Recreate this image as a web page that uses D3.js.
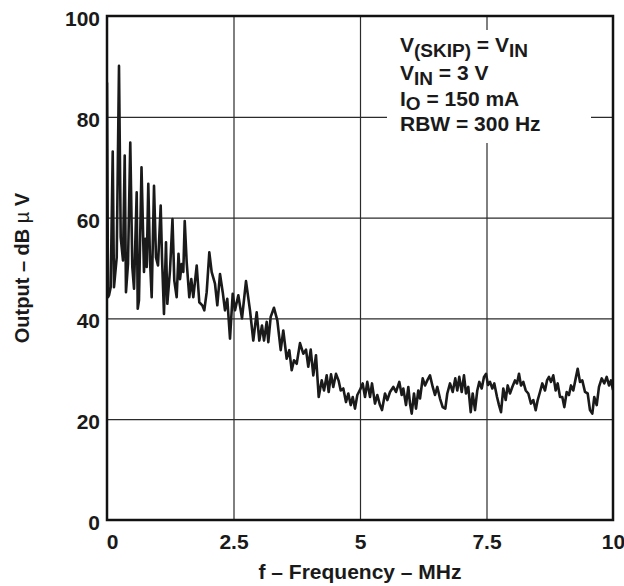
<!DOCTYPE html>
<html>
<head>
<meta charset="utf-8">
<script src="https://cdn.jsdelivr.net/npm/d3@7"></script>
<style>
    body { margin: 0; background: #fff; }
    text { font-family: "Liberation Sans", Arial, sans-serif; font-weight: bold; fill: #1a1a1a; white-space: pre; }
</style>
</head>
<body>
<svg id="chart" width="624" height="586"></svg>
<script>

// frequency in MHz from left to right
var freqMHz = [
    0, 0.02, 0.04, 0.073, 0.113, 0.138, 0.192, 0.237, 0.271, 0.316,
    0.350, 0.375, 0.415, 0.460, 0.500, 0.534, 0.587, 0.607, 0.632, 0.682,
    0.731, 0.757, 0.785, 0.816, 0.850, 0.883, 0.929, 0.968, 1.008, 1.061,
    1.087, 1.126, 1.166, 1.192, 1.245, 1.294, 1.330, 1.377, 1.413, 1.443,
    1.476, 1.508, 1.536, 1.575, 1.626, 1.666, 1.706, 1.773, 1.824, 1.883,
    1.923, 1.970, 2.022, 2.069, 2.134, 2.180, 2.233, 2.287, 2.332, 2.377,
    2.431, 2.484, 2.530, 2.595, 2.668, 2.747, 2.826, 2.891, 2.958, 3.010,
    3.063, 3.103, 3.156, 3.188, 3.235, 3.300, 3.366, 3.433, 3.484, 3.551,
    3.603, 3.650, 3.696, 3.749, 3.814, 3.879, 3.933, 3.978, 4.026, 4.077,
    4.130, 4.184, 4.243, 4.289, 4.342, 4.381, 4.427, 4.472, 4.526, 4.579,
    4.619, 4.670, 4.723, 4.769, 4.816, 4.856, 4.901, 4.947, 5.000, 5.053,
    5.099, 5.144, 5.198, 5.237, 5.296, 5.342, 5.395, 5.435, 5.494, 5.540,
    5.593, 5.658, 5.711, 5.777, 5.824, 5.856, 5.909, 5.955, 5.988, 6.022,
    6.067, 6.107, 6.152, 6.186, 6.239, 6.285, 6.330, 6.383, 6.437, 6.482,
    6.528, 6.581, 6.634, 6.686, 6.725, 6.779, 6.832, 6.883, 6.923, 6.962,
    7.010, 7.055, 7.095, 7.140, 7.188, 7.227, 7.273, 7.318, 7.358, 7.405,
    7.451, 7.490, 7.530, 7.569, 7.615, 7.654, 7.708, 7.747, 7.787, 7.832,
    7.879, 7.919, 7.964, 8.010, 8.063, 8.103, 8.142, 8.182, 8.227, 8.275,
    8.326, 8.379, 8.425, 8.472, 8.512, 8.557, 8.603, 8.656, 8.696, 8.735,
    8.775, 8.820, 8.867, 8.907, 8.953, 8.998, 9.038, 9.085, 9.130, 9.170,
    9.215, 9.263, 9.302, 9.348, 9.393, 9.447, 9.500, 9.545, 9.591, 9.630,
    9.678, 9.723, 9.777, 9.828, 9.875, 9.921, 9.960, 10.0
]

// output level in dBuV at each frequency above
var outputDb = [
    86.8, 44.2, 44.6, 46.2, 73.1, 46.2, 52.1, 90.1, 56.1, 51.5,
    72.3, 45.2, 50.8, 74.9, 50.2, 45.9, 65.0, 41.9, 43.6, 70.0,
    49.2, 55.8, 50.2, 66.7, 51.5, 44.2, 66.3, 52.1, 50.5, 62.4,
    52.1, 40.9, 55.1, 42.9, 49.5, 59.7, 47.5, 44.2, 52.8, 47.8,
    50.8, 49.2, 59.3, 51.1, 44.2, 47.8, 44.2, 50.5, 43.2, 42.6,
    41.6, 45.2, 53.1, 49.2, 46.9, 42.6, 48.8, 45.2, 41.6, 43.9,
    36.0, 44.9, 41.6, 44.6, 40.0, 47.4, 41.6, 35.6, 41.2, 35.6,
    38.6, 35.6, 39.3, 35.3, 40.3, 42.1, 39.6, 33.7, 37.6, 32.0,
    33.7, 29.7, 31.7, 31.0, 35.1, 33.0, 33.8, 30.4, 33.8, 28.7,
    32.7, 24.4, 27.7, 25.7, 28.7, 25.4, 28.9, 26.4, 29.0, 27.6,
    25.7, 26.1, 23.4, 25.1, 22.8, 24.4, 22.1, 24.8, 25.8, 27.1,
    24.4, 27.4, 24.4, 27.1, 23.1, 24.8, 22.8, 21.8, 25.1, 23.8,
    25.4, 26.4, 25.4, 27.4, 24.8, 26.1, 22.8, 26.4, 23.1, 21.1,
    25.1, 22.1, 25.7, 24.1, 28.1, 26.7, 27.7, 28.7, 26.4, 24.8,
    26.4, 24.1, 22.4, 22.1, 25.1, 27.1, 25.4, 28.1, 25.7, 28.4,
    25.4, 28.7, 25.1, 26.4, 21.4, 25.1, 21.8, 25.7, 27.4, 26.1,
    28.4, 29.0, 26.8, 27.4, 26.1, 27.1, 24.4, 22.8, 21.4, 26.1,
    23.8, 26.7, 25.1, 26.4, 27.7, 27.1, 29.0, 26.7, 27.4, 25.7,
    25.1, 23.1, 23.8, 21.8, 23.8, 25.4, 27.1, 25.7, 27.7, 28.4,
    27.4, 28.7, 25.7, 27.1, 24.4, 24.4, 22.4, 25.4, 24.8, 26.7,
    25.7, 28.1, 30.0, 27.4, 27.7, 25.4, 25.1, 21.8, 21.1, 24.4,
    22.8, 26.4, 28.1, 27.1, 28.4, 26.7, 27.7, 25.8
]

var xTicks = [0, 2.5, 5, 7.5, 10]
var xTickLabels = ['0', '2.5', '5', '7.5', '10']
var yTicks = [0, 20, 40, 60, 80, 100]
var yTickLabels = ['0', '20', '40', '60', '80', '100']

var layout = {
    left: 107,
    top: 16,
    width: 506,
    height: 504,
    gridColor: '#2b2b2b',
    lineColor: '#1a1a1a'
}

var svg = d3.select('#chart')

var chart = svg.append('g')
    .attr('id', 'chart-area')
    .attr('transform', 'translate(' + layout.left + ', ' + layout.top + ')')

var xScale = d3.scaleLinear()
    .domain([0, 10])
    .range([0, layout.width])

var yScale = d3.scaleLinear()
    .domain([0, 100])
    .range([layout.height, 0])

// grid lines, inner ticks only
var xGrid = chart.append('g')
    .attr('id', 'x-grid')
    .attr('transform', 'translate(0, ' + layout.height + ')')
    .call(d3.axisBottom(xScale).tickValues(xTicks.slice(1, -1)).tickSize(-layout.height).tickFormat(''))
xGrid.select('.domain').remove()
xGrid.selectAll('line').attr('stroke', layout.gridColor).attr('stroke-width', 1.2)

var yGrid = chart.append('g')
    .attr('id', 'y-grid')
    .call(d3.axisLeft(yScale).tickValues(yTicks.slice(1, -1)).tickSize(-layout.width).tickFormat(''))
yGrid.select('.domain').remove()
yGrid.selectAll('line').attr('stroke', layout.gridColor).attr('stroke-width', 1.2)

// white box behind the conditions text
chart.append('rect')
    .attr('x', 280)
    .attr('y', 14)
    .attr('width', 204)
    .attr('height', 113)
    .attr('fill', '#fff')

chart.append('clipPath')
    .attr('id', 'plot-clip')
    .append('rect')
    .attr('width', layout.width)
    .attr('height', layout.height)

var line = d3.line()
    .x(function (d) { return xScale(d[0]) })
    .y(function (d) { return yScale(d[1]) })

chart.append('path')
    .datum(d3.zip(freqMHz, outputDb))
    .attr('clip-path', 'url(#plot-clip)')
    .attr('fill', 'none')
    .attr('stroke', layout.lineColor)
    .attr('stroke-width', 2.6)
    .attr('stroke-linejoin', 'round')
    .attr('d', line)

chart.append('rect')
    .attr('width', layout.width)
    .attr('height', layout.height)
    .attr('fill', 'none')
    .attr('stroke', '#111')
    .attr('stroke-width', 2.5)

// tick labels
var xAxis = chart.append('g')
    .attr('id', 'x-axis')
    .attr('transform', 'translate(0, ' + layout.height + ')')
    .call(d3.axisBottom(xScale).tickValues(xTicks).tickSize(0).tickPadding(14)
        .tickFormat(function (d, i) { return xTickLabels[i] }))
xAxis.select('.domain').remove()
xAxis.attr('font-family', null).attr('font-size', null)
xAxis.selectAll('text').style('font-size', '21px').attr('fill', null)
    .attr('dx', function (d) { return d === 0 ? 5 : null })

var yAxis = chart.append('g')
    .attr('id', 'y-axis')
    .call(d3.axisLeft(yScale).tickValues(yTicks).tickSize(0).tickPadding(7)
        .tickFormat(function (d, i) { return yTickLabels[i] }))
yAxis.select('.domain').remove()
yAxis.attr('font-family', null).attr('font-size', null)
yAxis.selectAll('text').style('font-size', '21px').attr('fill', null).attr('dy', '0.45em')

// axis titles
svg.append('text')
    .attr('x', layout.left + layout.width / 2)
    .attr('y', 579)
    .attr('text-anchor', 'middle')
    .style('font-size', '21px')
    .text('f \u2013 Frequency \u2013 MHz')

var yTitle = svg.append('text')
    .attr('transform', 'translate(29, ' + (layout.top + layout.height / 2) + ') rotate(-90)')
    .attr('text-anchor', 'middle')
    .style('font-size', '20px')
yTitle.append('tspan').text('Output \u2013 dB')
yTitle.append('tspan').style('font-weight', 'normal').text(' \u00b5 ')
yTitle.append('tspan').text('V')

// test conditions
var notes = svg.append('g')
    .attr('id', 'conditions')
    .style('font-size', '21px')

var n1 = notes.append('text').attr('x', 400).attr('y', 52)
n1.append('tspan').text('V')
n1.append('tspan').attr('dy', 5).style('font-size', '19px').text('(SKIP)')
n1.append('tspan').attr('dy', -5).text(' = V')
n1.append('tspan').attr('dy', 5).style('font-size', '19px').text('IN')

var n2 = notes.append('text').attr('x', 400).attr('y', 80)
n2.append('tspan').text('V')
n2.append('tspan').attr('dy', 5).style('font-size', '19px').text('IN')
n2.append('tspan').attr('dy', -5).text(' = 3 V')

var n3 = notes.append('text').attr('x', 400).attr('y', 106)
n3.append('tspan').text('I')
n3.append('tspan').attr('dy', 4).style('font-size', '19px').text('O')
n3.append('tspan').attr('dy', -4).text(' = 150 mA')

notes.append('text').attr('x', 400).attr('y', 131).text('RBW = 300 Hz')

</script>
</body>
</html>
